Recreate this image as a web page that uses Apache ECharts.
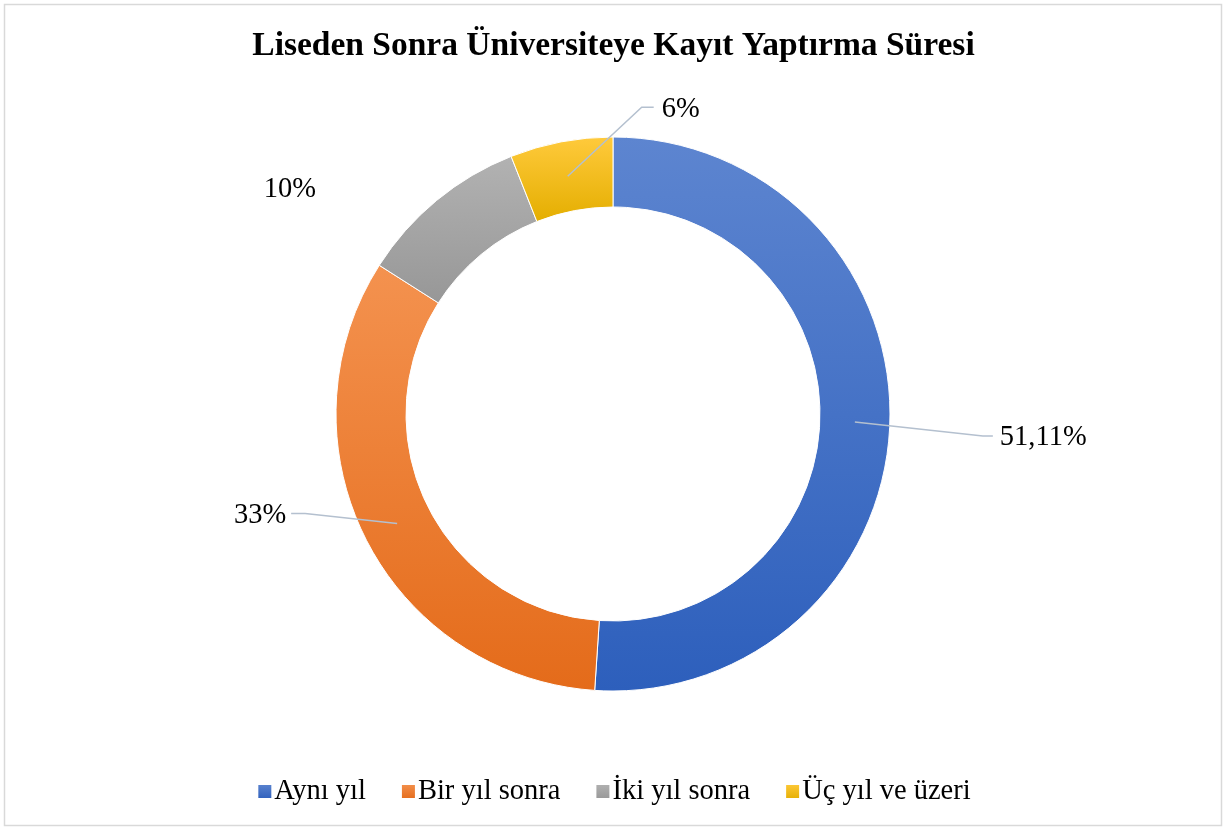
<!DOCTYPE html>
<html><head><meta charset="utf-8">
<script src="https://cdn.jsdelivr.net/npm/echarts@6/dist/echarts.min.js"></script>
<style>html,body{margin:0;padding:0;background:#fff}#c{width:1227px;height:830px}</style>
</head><body><div id="c"></div>
<script>
const title = 'Liseden Sonra Üniversiteye Kayıt Yaptırma Süresi';
const categories = ['Aynı yıl', 'Bir yıl sonra', 'İki yıl sonra', 'Üç yıl ve üzeri'];
const values = [51.11, 33, 10, 6];
const valueLabels = ['51,11%', '33%', '10%', '6%'];
const gradTop = ['#5D85D0', '#F4924F', '#B2B2B2', '#FFCA3C'];
const gradBottom = ['#2D5FBC', '#E46B1A', '#979797', '#E4AE00'];

// leader-line offsets (relative to the library's label anchor on the mid-ring)
const leader = [
  {bend:[128,14], tail:10, gap:7, align:'left', line:true},
  {bend:[-92,-10], tail:-14, gap:-5, align:'right', line:true},
  {bend:[-144,-40], tail:0, gap:1, align:'right', line:false},
  {bend:[74,-69], tail:12, gap:8, align:'left', line:true}
];

function grad(i){
  return {type:'linear',x:0,y:0,x2:0,y2:1,colorStops:[{offset:0,color:gradTop[i]},{offset:1,color:gradBottom[i]}]};
}
const font = '"Liberation Serif","Times New Roman",serif';
const chart = echarts.init(document.getElementById('c'));
chart.setOption({
  animation:false,
  backgroundColor:'#fff',
  title:{text:title,left:'center',top:24,textStyle:{fontFamily:font,fontSize:33.5,fontWeight:'bold',color:'#000'}},
  legend:{top:772,left:'center',itemWidth:15,itemHeight:15,itemGap:34,icon:'rect',
    textStyle:{fontFamily:font,fontSize:28.5,color:'#000',padding:[0,0,0,-3]},
    data:categories.map((c,i)=>({name:c,itemStyle:{color:grad(i)}}))},
  graphic:[{type:'rect',shape:{x:4.5,y:4.5,width:1217,height:821},style:{fill:'none',stroke:'#D9D9D9',lineWidth:1.5},silent:true}],
  series:[
    {type:'pie',z:2,center:[613,414],radius:[207,277],startAngle:90,clockwise:true,silent:true,
     label:{show:false},labelLine:{show:false},
     itemStyle:{borderColor:'#fff',borderWidth:1},
     data:categories.map((c,i)=>({name:c,value:values[i],itemStyle:{color:grad(i)}}))},
    {type:'pie',z:5,center:[613,414],radius:[0,242],startAngle:90,clockwise:true,silent:true,
     legendHoverLink:false,
     itemStyle:{color:'rgba(0,0,0,0)'},
     label:{show:true,fontFamily:font,fontSize:28.5,color:'#000',formatter:p=>valueLabels[p.dataIndex]},
     labelLine:{show:true,length:20,length2:10,smooth:false,lineStyle:{color:'#B4C0CF',width:1.5}},
     data:categories.map((c,i)=>({name:c+' ',value:values[i],
        labelLine: leader[i].line?undefined:{lineStyle:{color:'rgba(0,0,0,0)'}}})),
     labelLayout:function(p){
       const L = leader[p.dataIndex];
       const p0 = p.labelLinePoints[0];
       const p1 = [p0[0]+L.bend[0], p0[1]+L.bend[1]];
       const p2 = [p1[0]+L.tail, p1[1]];
       return {x:p2[0]+L.gap, y:p2[1]+2, align:L.align, verticalAlign:'middle',
               labelLinePoints:[p0,p1,p2]};
     }}
  ]
});
</script></body></html>
